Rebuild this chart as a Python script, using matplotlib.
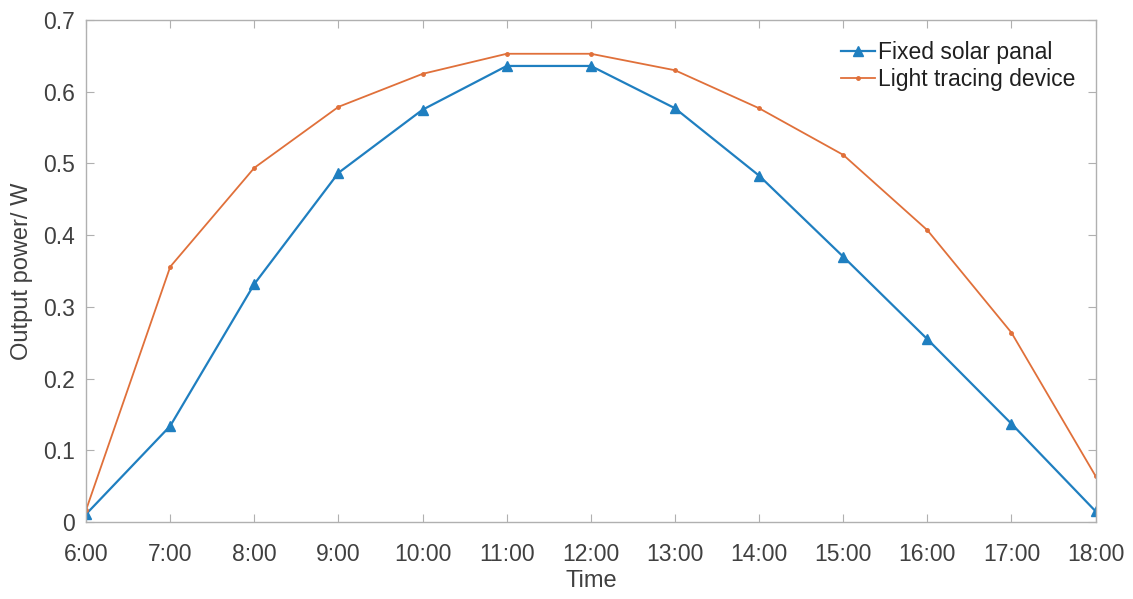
import matplotlib.pyplot as plt
import numpy as np

plt.rcParams['font.family'] = ['Liberation Sans', 'DejaVu Sans']

# hourly readings, 6:00 - 18:00
hours = ["6:00", "7:00", "8:00", "9:00", "10:00", "11:00", "12:00",
         "13:00", "14:00", "15:00", "16:00", "17:00", "18:00"]
fixed_panel = [0.011, 0.134, 0.332, 0.487, 0.575, 0.636, 0.636,
               0.577, 0.483, 0.370, 0.255, 0.137, 0.015]
light_tracing = [0.017, 0.356, 0.494, 0.579, 0.625, 0.653, 0.653,
                 0.630, 0.577, 0.512, 0.407, 0.264, 0.064]

blue = "#1f7fc0"
orange = "#e0703a"
grey = "#404040"

fig = plt.figure(figsize=(11.33, 5.99), dpi=100)
ax = fig.add_axes([0.076, 0.1285, 0.891, 0.838])

x = np.arange(len(hours))
ax.plot(x, fixed_panel, marker='^', color=blue, lw=1.6, ms=6.5,
        label="Fixed solar panal")
ax.plot(x, light_tracing, marker='.', color=orange, lw=1.3, ms=5,
        label="Light tracing device")

ax.set_xlim(0, len(hours) - 1)
ax.set_ylim(0, 0.7)
ax.set_xticks(x)
ax.set_xticklabels(hours)
ax.set_yticks(np.arange(0, 0.71, 0.1))
ax.set_yticklabels(["0", "0.1", "0.2", "0.3", "0.4", "0.5", "0.6", "0.7"])

ax.tick_params(direction='in', top=True, right=True, length=6, width=0.8,
               colors="#b0b0b0", labelcolor=grey, labelsize=16.5)
ax.tick_params(axis='x', pad=15)
ax.tick_params(axis='y', pad=8)
for s in ax.spines.values():
    s.set_color("#b0b0b0")
    s.set_linewidth(1.0)

ax.set_xlabel("Time", fontsize=17, color=grey, labelpad=3)
ax.set_ylabel("Output power/ W", fontsize=17, color=grey, labelpad=7)

ax.legend(loc='upper right', frameon=False, fontsize=16.5, handlelength=1.5,
          handletextpad=0.1, labelspacing=0.2, borderaxespad=0.5,
          labelcolor="#202020")

fig.savefig("out.png", dpi=100)
